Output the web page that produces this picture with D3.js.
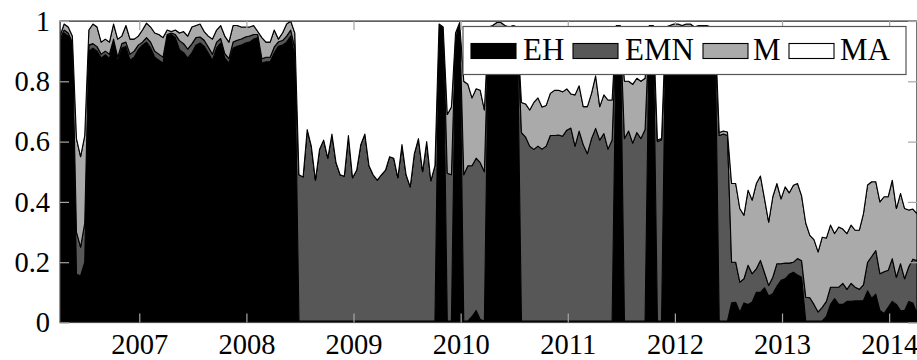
<!DOCTYPE html>
<html><head><meta charset="utf-8">
<script src="https://cdn.jsdelivr.net/npm/d3@7"></script>
<style>body{margin:0;background:#fff}svg{display:block}</style>
</head><body>
<svg id="chart" width="917" height="360"></svg>
<script>
// ---------------- data ----------------
const seriesNames = ["EH", "EMN", "M", "MA"];
const seriesColors = ["#000000", "#575757", "#aaaaaa", "#ffffff"];
const startYear = 2006.26;      // first observation (decimal year)
const periodsPerYear = 26;      // bi-weekly observations

const EH = [
 .93,.96,.95,.92,.16,.155,.20,.90,.91,.90,
 .877,.888,.875,.93,.865,.91,.915,.87,.88,.905,
 .92,.93,.91,.88,.87,.86,.95,.955,.945,.905,
 .895,.877,.894,.92,.927,.916,.894,.87,.91,.927,
 .877,.86,.91,.916,.92,.927,.93,.94,.945,.86,
 .865,.865,.894,.916,.92,.93,.95,.88,.005,.005,
 .005,.005,.005,.005,.005,.005,.005,.005,.005,.005,
 .005,.005,.005,.005,.005,.005,.005,.005,.005,.005,
 .005,.005,.005,.005,.005,.005,.005,.005,.005,.005,
 .005,.005,.985,.975,.005,.005,.93,.99,.005,.005,
 .02,.04,.01,.005,.97,.97,.965,.96,.97,.97,
 .975,.97,.005,.005,.005,.005,.005,.005,.005,.005,
 .005,.005,.005,.005,.005,.005,.005,.005,.005,.005,
 .005,.005,.005,.005,.005,.97,.97,.005,.005,.005,
 .005,.005,.005,.97,.97,.005,.005,.96,.97,.975,
 .965,.97,.96,.97,.965,.97,.975,.97,.965,.96,
 .005,.005,.005,.065,.067,.034,.065,.06,.068,.10,
 .10,.115,.088,.095,.12,.14,.145,.16,.167,.158,
 .15,.005,.005,.005,.005,.005,.02,.06,.079,.06,
 .06,.07,.07,.072,.072,.073,.105,.08,.094,.04,
 .03,.05,.07,.06,.04,.04,.07,.065,.03
];
const EMN = [
 .01,.01,.01,.01,.14,.095,.13,.02,.015,.015,
 .013,.012,.015,.01,.015,.015,.015,.02,.02,.015,
 .01,.015,.02,.02,.02,.02,.005,.005,.01,.03,
 .03,.03,.03,.025,.02,.02,.02,.02,.02,.015,
 .015,.015,.02,.02,.02,.02,.02,.015,.01,.015,
 .015,.015,.02,.015,.015,.02,.02,.03,.485,.478,
 .635,.58,.467,.57,.60,.54,.62,.525,.485,.48,
 .615,.475,.50,.585,.62,.515,.485,.467,.485,.50,
 .545,.54,.475,.585,.485,.445,.555,.605,.495,.595,
 .465,.515,.005,.005,.49,.485,.01,.005,.485,.515,
 .50,.505,.52,.495,.005,.005,.01,.01,.005,.005,
 .005,.005,.625,.61,.58,.569,.58,.57,.58,.615,
 .615,.617,.613,.633,.64,.58,.63,.585,.555,.605,
 .639,.60,.622,.57,.60,.005,.005,.605,.63,.59,
 .625,.605,.635,.005,.005,.595,.60,.005,.005,.005,
 .01,.005,.01,.005,.005,.005,.005,.005,.005,.005,
 .615,.62,.615,.135,.133,.10,.08,.13,.094,.078,
 .106,.05,.035,.055,.075,.055,.052,.037,.033,.054,
 .055,.079,.077,.055,.03,.045,.05,.057,.038,.057,
 .07,.04,.06,.045,.038,.052,.095,.139,.145,.122,
 .138,.123,.142,.09,.155,.105,.115,.145,.175
];
const M = [
 .01,.02,.02,.02,.31,.30,.29,.05,.065,.065,
 .04,.04,.04,.05,.06,.025,.055,.05,.04,.03,
 .04,.048,.05,.06,.065,.065,.015,.005,.015,.025,
 .04,.043,.056,.04,.043,.029,.036,.05,.04,.043,
 .058,.055,.055,.049,.04,.033,.03,.03,.01,.07,
 .05,.05,.056,.009,.025,.04,.03,.05,0,0,
 0,0,0,0,0,0,0,0,0,0,
 0,0,0,0,0,0,0,0,0,0,
 0,0,0,0,0,0,0,0,0,0,
 0,0,0,0,.195,.225,.02,0,.31,.27,
 .225,.23,.24,.205,.005,.01,.02,.025,.01,.005,
 .005,.005,.10,.11,.12,.156,.16,.14,.135,.14,
 .15,.148,.147,.137,.113,.17,.15,.126,.156,.15,
 .174,.111,.128,.163,.133,.01,.01,.19,.165,.195,
 .18,.19,.17,.01,.01,.005,.005,.015,.01,.01,
 .015,.01,.02,.015,.01,.01,.005,.01,.01,.01,
 .01,.01,.012,.261,.261,.244,.211,.249,.244,.283,
 .28,.245,.21,.267,.266,.215,.253,.233,.255,.249,
 .215,.246,.207,.215,.199,.233,.21,.206,.178,.20,
 .18,.185,.193,.189,.196,.236,.256,.248,.228,.238,
 .249,.244,.26,.228,.233,.233,.188,.166,.156
];
const MA = [
 .05,.01,.02,.05,.39,.45,.38,.03,.01,.02,
 .07,.06,.07,.01,.06,.05,.015,.06,.06,.05,
 .03,.007,.02,.04,.045,.055,.03,.035,.03,.04,
 .035,.05,.02,.015,.01,.035,.05,.06,.03,.015,
 .05,.07,.015,.015,.02,.02,.02,.015,.035,.055,
 .07,.07,.03,.06,.04,.01,0,.04,.51,.517,
 .36,.415,.528,.425,.395,.455,.375,.47,.51,.515,
 .38,.52,.495,.41,.375,.48,.51,.528,.51,.495,
 .45,.455,.52,.41,.51,.55,.44,.39,.50,.40,
 .53,.48,.01,.02,.31,.285,.04,.005,.20,.21,
 .255,.225,.23,.295,.02,.015,.005,.005,.015,.02,
 .015,.02,.27,.275,.295,.27,.255,.285,.28,.24,
 .23,.23,.235,.225,.242,.245,.215,.284,.284,.24,
 .182,.284,.245,.262,.262,.015,.015,.20,.20,.21,
 .19,.20,.19,.015,.015,.395,.39,.02,.015,.01,
 .01,.015,.01,.01,.02,.015,.015,.015,.02,.025,
 .37,.365,.368,.539,.539,.622,.644,.561,.594,.539,
 .514,.59,.667,.583,.539,.59,.55,.57,.545,.539,
 .58,.67,.711,.725,.766,.717,.72,.677,.705,.683,
 .69,.705,.677,.694,.694,.639,.544,.533,.533,.60,
 .583,.583,.528,.622,.572,.622,.627,.624,.639
];
const yearTicks = [2007, 2008, 2009, 2010, 2011, 2012, 2013, 2014];
const yearLabels = ["2007", "2008", "2009", "2010", "2011", "2012", "2013", "2014"];
const yTicks = [0, 0.2, 0.4, 0.6, 0.8, 1];
const yTickLabels = ["0", "0.2", "0.4", "0.6", "0.8", "1"];

// ---------------- chart ----------------
const seriesData = { EH, EMN, M, MA };
const dates = EH.map((_, i) => startYear + i / periodsPerYear);
const rows = dates.map((d, i) => {
  const r = { date: d };
  seriesNames.forEach(k => r[k] = seriesData[k][i]);
  return r;
});
const layers = d3.stack().keys(seriesNames)(rows);

const L = 60, R = 917, T = 21, B = 322.5;
const FONT = '"Liberation Serif"';
const svg = d3.select("#chart");

const x = d3.scaleLinear().domain([dates[0], dates[dates.length - 1]]).range([L, R]);
const y = d3.scaleLinear().domain([0, 1]).range([B, T]);

svg.append("defs").append("clipPath").attr("id", "plotclip")
  .append("rect").attr("x", L).attr("y", T).attr("width", R - L).attr("height", B - T);

const area = d3.area()
  .x(d => x(d.data.date))
  .y0(d => y(d[0]))
  .y1(d => y(d[1]));

svg.append("g").attr("clip-path", "url(#plotclip)")
  .selectAll("path").data(layers).join("path")
  .attr("d", area)
  .attr("fill", (d, i) => seriesColors[i])
  .attr("stroke", "#000")
  .attr("stroke-width", 1.1)
  .attr("stroke-linejoin", "round");

// frame
svg.append("rect").attr("x", L).attr("y", T).attr("width", R - L + 1).attr("height", B - T)
  .attr("fill", "none").attr("stroke", "#4a4a4a").attr("stroke-width", 1.2);

function styleAxis(g, labels) {
  g.attr("font-family", null).attr("font-size", null);
  g.select(".domain").remove();
  g.selectAll(".tick line").attr("stroke", "#a6a6a6").attr("stroke-width", 1.2);
  g.selectAll(".tick text").style("font-family", FONT)
    .style("font-size", "28.5px").attr("fill", "#000");
  if (!labels) g.selectAll(".tick text").remove();
}

svg.append("g").attr("transform", `translate(0,${B})`)
  .call(d3.axisBottom(x).tickValues(yearTicks).tickFormat((d, i) => yearLabels[i])
    .tickSizeInner(-9).tickSizeOuter(0).tickPadding(11))
  .call(g => styleAxis(g, true));
svg.append("g").attr("transform", `translate(0,${T})`)
  .call(d3.axisTop(x).tickValues(yearTicks).tickSizeInner(-9).tickSizeOuter(0))
  .call(g => styleAxis(g, false));
svg.append("g").attr("transform", `translate(${L},0)`)
  .call(d3.axisLeft(y).tickValues(yTicks).tickFormat((d, i) => yTickLabels[i])
    .tickSizeInner(-9).tickSizeOuter(0).tickPadding(10))
  .call(g => styleAxis(g, true));
svg.append("g").attr("transform", `translate(${R},0)`)
  .call(d3.axisRight(y).tickValues(yTicks).tickSizeInner(-9).tickSizeOuter(0))
  .call(g => styleAxis(g, false));

// legend
const lg = svg.append("g");
lg.append("rect").attr("x", 463).attr("y", 26.5).attr("width", 443).attr("height", 48)
  .attr("fill", "#fff").attr("stroke", "#555").attr("stroke-width", 1.2);
const swatchX = [471, 573, 703, 789];
const textX = [523, 625, 753, 840];
seriesNames.forEach((name, i) => {
  lg.append("rect").attr("x", swatchX[i]).attr("y", 43.5).attr("width", 45).attr("height", 15)
    .attr("fill", seriesColors[i]).attr("stroke", "#000").attr("stroke-width", 1.1);
  lg.append("text").attr("x", textX[i]).attr("y", 60)
    .style("font-family", FONT).style("font-size", "31px").attr("fill", "#000").text(name);
});
</script>
</body></html>
